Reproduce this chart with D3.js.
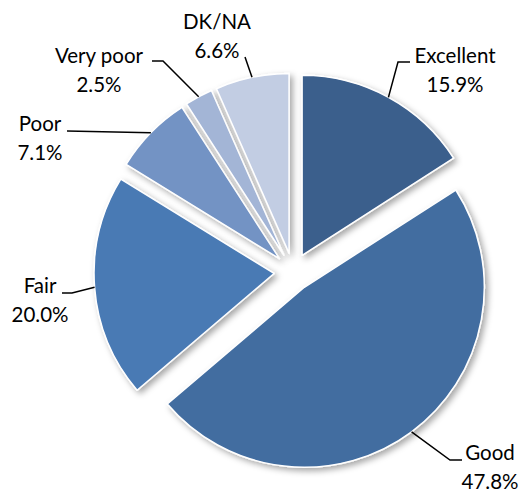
<!DOCTYPE html>
<html>
<head>
<meta charset="utf-8">
<script src="https://cdn.jsdelivr.net/npm/d3@7"></script>
<style>
  html, body { margin: 0; padding: 0; background: #fff; }
  svg { display: block; }
</style>
</head>
<body>
<svg id="chart" width="532" height="495"></svg>
<script>
// ---- data ----
const categories = ["Excellent", "Good", "Fair", "Poor", "Very poor", "DK/NA"];
const values = [15.9, 47.8, 20.0, 7.1, 2.5, 6.6];
const valueLabels = ["15.9%", "47.8%", "20.0%", "7.1%", "2.5%", "6.6%"];

// ---- styling / layout ----
const colors = ["#3b5e8c", "#426da0", "#4a7ab4", "#7393c4", "#a3b5d6", "#c2cde3"];
const cx = 293, cy = 272, R = 180, explode = 19;
// label layout: text centre x, first baseline y, leader path (after arc point)
const labelLayout = [
  { x: 455, y: 63, pts: [[398, 62], [410, 62]] },
  { x: 490, y: 460, pts: [[450, 460], [462, 460]] },
  { x: 40, y: 293, pts: [[72, 293], [62, 293]] },
  { x: 40, y: 131, pts: [[67, 131]] },
  { x: 99, y: 63, pts: [[163, 61], [152, 61]] },
  { x: 217, y: 29, pts: [[245, 57]] }
];
const lineGap = 28.5;

const svg = d3.select("#chart");
const defs = svg.append("defs");
const f = defs.append("filter").attr("id", "shadow")
  .attr("x", "-20%").attr("y", "-20%").attr("width", "140%").attr("height", "140%");
f.append("feDropShadow").attr("dx", 3).attr("dy", 3).attr("stdDeviation", 3)
  .attr("flood-color", "#000").attr("flood-opacity", 0.35);

const pie = d3.pie().sort(null).value(d => d)(values);
const arc = d3.arc().innerRadius(0).outerRadius(R);

const g = svg.append("g").attr("transform", `translate(${cx},${cy})`);

const offset = d => {
  const a = (d.startAngle + d.endAngle) / 2;
  return [explode * Math.sin(a), -explode * Math.cos(a)];
};

g.selectAll("path.slice").data(pie).join("path")
  .attr("class", "slice")
  .attr("transform", d => { const o = offset(d); return `translate(${o[0]},${o[1]})`; })
  .attr("d", arc)
  .attr("fill", (d, i) => colors[i])
  .attr("stroke", "#fff")
  .attr("stroke-width", 1.5)
  .attr("stroke-linejoin", "round")
  .attr("filter", "url(#shadow)");

// leader lines
pie.forEach((d, i) => {
  const a = (d.startAngle + d.endAngle) / 2;
  const o = offset(d);
  const sx = cx + o[0] + R * Math.sin(a);
  const sy = cy + o[1] - R * Math.cos(a);
  const pts = [[sx, sy]].concat(labelLayout[i].pts);
  svg.append("path")
    .attr("d", d3.line()(pts))
    .attr("fill", "none")
    .attr("stroke", "#000")
    .attr("stroke-width", 1.5);
});

// labels
const font = "Lato, 'Open Sans', sans-serif";
categories.forEach((c, i) => {
  const L = labelLayout[i];
  const t = svg.append("text")
    .attr("text-anchor", "middle")
    .attr("font-family", font)
    .attr("font-size", 20.5)
    .attr("fill", "#000");
  t.append("tspan").attr("x", L.x).attr("y", L.y).text(c);
  t.append("tspan").attr("x", L.x).attr("y", L.y + lineGap).text(valueLabels[i]);
});
</script>
</body>
</html>
